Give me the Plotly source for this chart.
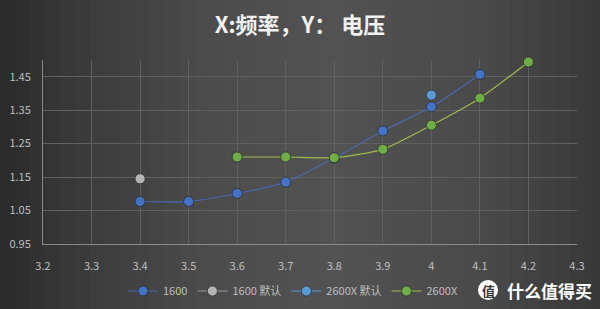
import plotly.graph_objects as go

x_1600 = [3.4, 3.5, 3.6, 3.7, 3.8, 3.9, 4.0, 4.1]
y_1600 = [1.077, 1.077, 1.101, 1.135, 1.207, 1.288, 1.36, 1.457]
x_1600_def = [3.4]
y_1600_def = [1.145]
x_2600x_def = [4.0]
y_2600x_def = [1.395]
x_2600x = [3.6, 3.7, 3.8, 3.9, 4.0, 4.1, 4.2]
y_2600x = [1.21, 1.21, 1.208, 1.233, 1.305, 1.386, 1.494]

series = [
    ("1600", x_1600, y_1600, "#4472C4", "#4a69b0"),
    ("1600 默认", x_1600_def, y_1600_def, "#b4b4b4", "#9a9a9a"),
    ("2600X 默认", x_2600x_def, y_2600x_def, "#5b9bd5", "#5b9bd5"),
    ("2600X", x_2600x, y_2600x, "#70AD47", "#9dbb4f"),
]

W, H = 600, 309
ML, MR, MT, MB = 43, 23, 60, 65
PW, PH = W - ML - MR, H - MT - MB

fig = go.Figure()
for name, xs, ys, mc, lc in series:
    fig.add_trace(go.Scatter(
        x=xs, y=ys, name=name, mode="lines+markers", cliponaxis=False,
        line=dict(color=lc, width=1.2, shape="spline", smoothing=0.6),
        marker=dict(color=mc, size=10, line=dict(color="rgba(30,30,30,0.6)", width=1)),
    ))

# background gradient (horizontal)
def bg_color(t):
    stops = [(0.0, 0x2a), (0.15, 0x3c), (0.35, 0x4c), (0.55, 0x52), (0.8, 0x4a), (1.0, 0x38)]
    for (t0, c0), (t1, c1) in zip(stops[:-1], stops[1:]):
        if t0 <= t <= t1:
            c = int(round(c0 + (c1 - c0) * (t - t0) / (t1 - t0)))
            return f"rgb({c},{c},{c})"
    return "rgb(70,70,70)"

def px_x(px):
    return (px - ML) / PW

def px_y(py):
    return (H - MB - py) / PH

shapes = []
N = 40
for i in range(N):
    px0 = W * i / N
    px1 = W * (i + 1) / N + 1
    shapes.append(dict(type="rect", xref="paper", yref="paper", layer="below",
                       x0=px_x(px0), x1=px_x(px1), y0=px_y(H + 2), y1=px_y(-2),
                       fillcolor=bg_color((i + 0.5) / N), line=dict(width=0)))

# watermark circle
shapes.append(dict(type="circle", xref="paper", yref="paper", layer="above",
                   x0=px_x(478), x1=px_x(498), y0=px_y(300), y1=px_y(280),
                   fillcolor="#ffffff", line=dict(width=0)))

fig.update_layout(
    width=W, height=H,
    paper_bgcolor="#474747", plot_bgcolor="rgba(0,0,0,0)",
    margin=dict(l=ML, r=MR, t=MT, b=MB),
    shapes=shapes,
    title=dict(text="<b>X:频率，Y： 电压</b>", x=0.5, xanchor="center", y=1 - 25 / H, yanchor="middle",
               font=dict(family="Noto Sans CJK SC", size=22, color="#f2f2f2")),
    font=dict(family="Noto Sans CJK SC, Open Sans", color="#bfbfbf", size=11),
    showlegend=True,
    legend=dict(orientation="h", x=px_x(123), xanchor="left", yref="container", y=1 - 291 / H,
                yanchor="middle",
                font=dict(size=11, color="#bfbfbf"), bgcolor="rgba(0,0,0,0)",
                tracegroupgap=0),
    xaxis=dict(range=[3.2, 4.3], tick0=3.2, dtick=0.1, showgrid=True, gridcolor="#606060",
               gridwidth=1, zeroline=False, showline=True, linecolor="#8a8a8a", linewidth=1,
               ticks="outside", ticklen=12, tickcolor="rgba(0,0,0,0)", automargin=False,
               tickfont=dict(size=11, color="#bfbfbf")),
    yaxis=dict(range=[0.95, 1.5], tick0=0.95, dtick=0.1, showgrid=True, gridcolor="#606060",
               gridwidth=1, zeroline=False, showline=True, linecolor="#8a8a8a", linewidth=1,
               ticks="outside", ticklen=9, tickcolor="rgba(0,0,0,0)", tickformat=".2f",
               automargin=False, tickfont=dict(size=11, color="#bfbfbf")),
)

# watermark text
fig.add_annotation(xref="paper", yref="paper", x=px_x(488), y=px_y(290), xanchor="center", yanchor="middle",
                   text="<b>值</b>", showarrow=False,
                   font=dict(family="Noto Sans CJK SC", size=13, color="#333333"))
fig.add_annotation(xref="paper", yref="paper", x=px_x(594), y=px_y(290), xanchor="right", yanchor="middle",
                   text="<b>什么值得买</b>", showarrow=False,
                   font=dict(family="Noto Sans CJK SC", size=17, color="#ffffff"))

fig.write_html("out.html")
